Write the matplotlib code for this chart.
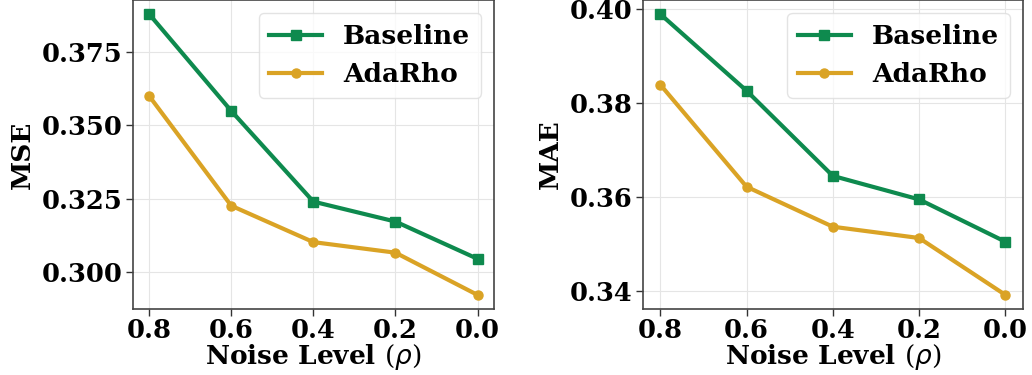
import matplotlib
matplotlib.use("Agg")
import matplotlib.pyplot as plt

noise = [0.8, 0.6, 0.4, 0.2, 0.0]
mse_baseline = [0.3879, 0.3549, 0.3240, 0.3172, 0.3045]
mse_adarho = [0.3600, 0.3226, 0.3102, 0.3066, 0.2922]
mae_baseline = [0.3989, 0.3826, 0.3645, 0.3595, 0.3505]
mae_adarho = [0.3839, 0.3622, 0.3537, 0.3513, 0.3392]
series_names = ["Baseline", "AdaRho"]

plt.rcParams['font.family'] = ['DejaVu Serif']
plt.rcParams['mathtext.fontset'] = 'custom'
plt.rcParams['mathtext.it'] = 'DejaVu Sans:italic:normal'
plt.rcParams['mathtext.rm'] = 'DejaVu Serif:normal'

green = '#0e8a4e'
gold = '#daa325'

fig = plt.figure(figsize=(10.32, 3.75), dpi=100)
ax1 = fig.add_axes([132.7/1032, 1 - 309/375, (494 - 132.7)/1032, 309/375])
ax2 = fig.add_axes([643/1032, 1 - 309/375, (1022.7 - 643)/1032, 309/375])

fs_tick = 18.5
fs = 19
for ax, base, ada, ylab, yt in [
    (ax1, mse_baseline, mse_adarho, 'MSE', [0.300, 0.325, 0.350, 0.375]),
    (ax2, mae_baseline, mae_adarho, 'MAE', [0.34, 0.36, 0.38, 0.40]),
]:
    ax.plot(noise, base, color=green, marker='s', lw=3, ms=6.5, label=series_names[0])
    ax.plot(noise, ada, color=gold, marker='o', lw=3, ms=6.5, label=series_names[1])
    ax.invert_xaxis()
    ax.set_xticks(noise)
    ax.set_xticklabels([f"{v:.1f}" for v in noise])
    ax.set_yticks(yt)
    if ylab == 'MSE':
        ax.set_yticklabels([f"{v:.3f}" for v in yt])
    else:
        ax.set_yticklabels([f"{v:.2f}" for v in yt])
    ax.tick_params(labelsize=fs_tick, width=1, length=5, color='#333333', pad=2.5)
    ax.tick_params(axis='x', pad=1.5)
    for lbl in ax.get_xticklabels() + ax.get_yticklabels():
        lbl.set_fontweight('bold')
    ax.set_xlabel(r'Noise Level $(\rho)$', fontsize=fs, fontweight='bold', labelpad=-1)
    ax.set_ylabel(ylab, fontsize=fs, fontweight='bold', labelpad=5)
    ax.grid(True, color='#e5e5e5', lw=0.8)
    ax.set_axisbelow(True)
    for sp in ax.spines.values():
        sp.set_color('#444444')
        sp.set_linewidth(1.2)
    leg = ax.legend(loc='upper right', handlelength=2.0,
                    prop={'weight': 'bold', 'size': fs}, framealpha=0.8,
                    edgecolor='#dddddd', fancybox=True)

fig.savefig('out.png', dpi=100)
